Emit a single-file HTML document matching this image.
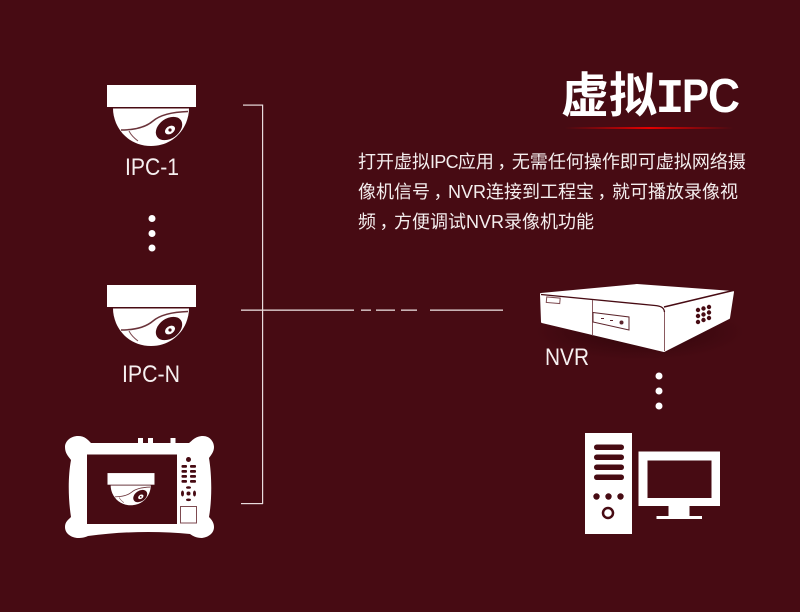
<!DOCTYPE html>
<html><head><meta charset="utf-8">
<style>
html,body{margin:0;padding:0;background:#470b13;}
svg{display:block;}
text{font-family:"Liberation Sans","Noto Sans CJK SC",sans-serif;fill:#fff;}
.b{font-size:18px;fill:#f4eeee;}
.l{font-size:24px;fill:#f6f0f0;}
</style></head><body>
<svg width="800" height="612" viewBox="0 0 800 612" xmlns="http://www.w3.org/2000/svg">
<defs>
<linearGradient id="rg" x1="0" x2="1" y1="0" y2="0">
<stop offset="0" stop-color="#e00000" stop-opacity="0"/>
<stop offset=".5" stop-color="#e60000"/>
<stop offset="1" stop-color="#e00000" stop-opacity="0"/>
</linearGradient>
<radialGradient id="sh" cx=".5" cy=".5" r=".5">
<stop offset="0" stop-color="#2a0308" stop-opacity=".8"/>
<stop offset="1" stop-color="#2a0308" stop-opacity="0"/>
</radialGradient>
<g id="cam">
<rect x="107" y="85" width="89" height="22" fill="#fff"/>
<path d="M113 108.500H189C189 113 188 118 186 123C180 137 167 146 151 146C135 146 122 137 116 123C114 118 113 113 113 108.500Z" fill="#fff"/>
<path d="M121 130C135 130 146 127 153 121C160 115 172 112 188 111.500" stroke="#6a333a" stroke-width="1.500" fill="none"/>
<path d="M129 131C131 135 134 138 138 141" stroke="#7d4a50" stroke-width="1" fill="none"/>
<ellipse cx="169" cy="128.500" rx="14.500" ry="10" transform="rotate(-35 169 128.500)" fill="#470b13"/>
<ellipse cx="170" cy="130" rx="5.500" ry="3.800" transform="rotate(-35 170 130)" fill="#fff"/>
<circle cx="170" cy="130" r="1.600" fill="#470b13"/>
</g>
</defs>
<rect width="800" height="612" fill="#470b13"/>

<!-- Title -->
<text x="561" y="112" font-size="48" font-weight="700" style="fill:#fff">虚拟</text>
<text x="655.500" y="112" font-size="48" font-weight="700" style="font-family:'Liberation Mono',monospace;fill:#fff">I</text>
<text x="682" y="112" font-size="47" font-weight="700" style="fill:#fff" textLength="27" lengthAdjust="spacingAndGlyphs">P</text>
<text x="708" y="112" font-size="48" font-weight="700" style="fill:#fff" textLength="32" lengthAdjust="spacingAndGlyphs">C</text>
<rect x="565" y="127" width="168" height="2" fill="url(#rg)"/>

<!-- Body -->
<text class="b" x="358" y="168">打开虚拟<tspan letter-spacing="-.7">IPC</tspan>应用<tspan dx="3.500">，</tspan><tspan dx="-3.500">无需任何操作即可虚拟网络摄</tspan></text>
<text class="b" x="358" y="198">像机信号<tspan dx="3.500">，</tspan><tspan dx="-3.500">NVR连接到工程宝</tspan><tspan dx="3.500">，</tspan><tspan dx="-3.500">就可播放录像视</tspan></text>
<text class="b" x="358" y="228">频<tspan dx="3.500">，</tspan><tspan dx="-3.500">方便调试NVR录像机功能</tspan></text>

<!-- Cameras -->
<use href="#cam"/>
<text class="l" x="125" y="175" textLength="54" lengthAdjust="spacingAndGlyphs">IPC-1</text>
<circle cx="152" cy="218.500" r="3.500" fill="#fff"/>
<circle cx="152" cy="233.500" r="3.500" fill="#fff"/>
<circle cx="152" cy="248" r="3.500" fill="#fff"/>
<use href="#cam" y="200"/>
<text class="l" x="122" y="382" textLength="58" lengthAdjust="spacingAndGlyphs">IPC-N</text>

<!-- Bracket and link -->
<g fill="#e8dcdd">
<rect x="243" y="104.500" width="19" height="1.200"/>
<rect x="262" y="104.500" width="1.200" height="399.500"/>
<rect x="241" y="503" width="22" height="1.200"/>
<rect x="241" y="309.500" width="113" height="1.300"/>
<rect x="361" y="309.500" width="10" height="1.300"/>
<rect x="376" y="309.500" width="19" height="1.300"/>
<rect x="401" y="309.500" width="16" height="1.300"/>
<rect x="430" y="309.500" width="73" height="1.300"/>
</g>

<!-- Tablet -->
<path d="M91 443H189C192 441 195 436 203 436C210 436 214 442 214 447C214 452 211 455 209 458C212 476 212 500 209 517C212 520 214 523 214 527C214 533 209 537 202 538C196 538 193 536 190 534C160 531 125 531 88 536C84 538 80 538 77 538C70 537 65 533 65 527C65 522 68 520 71 517C68 498 68 476 71 460C68 456 65 453 65 447C65 441 71 436 78 436C85 436 88 440 91 443Z" fill="#fff"/>
<rect x="138" y="438" width="5" height="6" fill="#fff"/>
<rect x="148" y="438" width="5" height="6" fill="#fff"/>
<rect x="170.500" y="438" width="5" height="6" fill="#fff"/>
<rect x="87" y="454.500" width="90" height="69.500" fill="#470b13"/>
<use href="#cam" transform="translate(51 428.200) scale(.528)"/>
<g fill="#470b13">
<circle cx="188.500" cy="459.500" r="2.500"/>
<rect x="181.500" y="465" width="5.500" height="2.800" rx="1"/><rect x="190" y="465" width="6" height="2.800" rx="1"/>
<rect x="181.500" y="470" width="5.500" height="2.800" rx="1"/><rect x="190" y="470" width="6" height="2.800" rx="1"/>
<rect x="181.500" y="475" width="5.500" height="2.800" rx="1"/><rect x="190" y="475" width="6" height="2.800" rx="1"/>
<rect x="181.500" y="480" width="5.500" height="2.800" rx="1"/><rect x="190" y="480" width="6" height="2.800" rx="1"/>
<circle cx="188.500" cy="493.500" r="2"/>
<ellipse cx="188.500" cy="487.500" rx="2.500" ry="1.300"/>
<ellipse cx="188.500" cy="499.800" rx="2.500" ry="1.300"/>
<ellipse cx="182.500" cy="493.500" rx="1.500" ry="3"/>
<ellipse cx="194.500" cy="493.500" rx="1.500" ry="3"/>
</g>
<rect x="180.500" y="506.500" width="16" height="16.500" fill="none" stroke="#7d4a50" stroke-width="1"/>

<!-- NVR -->
<ellipse cx="640" cy="332" rx="104" ry="28" fill="url(#sh)"/>
<path d="M541 294L637 285L733 292L729 318L664 351L542 322Z" fill="#fff" stroke="#fff" stroke-width="2" stroke-linejoin="round"/>
<g stroke="#470b13" fill="none">
<path d="M541 294.500L655 305.500C660 306 664 307 664.500 312" stroke-width="1.300"/>
<path d="M664 307L733 290.500" stroke-width="1.500"/>
<path d="M664.500 312V351" stroke="#8a5a60" stroke-width="1"/>
<path d="M592.500 300V335.500" stroke="#8a5a60" stroke-width="1"/>
</g>
<path d="M593 312.500L629 317V330L593 322Z" fill="#fff" stroke="#5c242b" stroke-width="1"/>
<rect x="546.500" y="297.500" width="13.500" height="5.500" fill="#fff" stroke="#7d4a50" stroke-width="1" transform="rotate(5 553 300)"/>
<g fill="#5c242b">
<rect x="601" y="318" width="3" height="1"/><rect x="610" y="320" width="3" height="1"/>
<circle cx="621.500" cy="322.500" r="2"/>
</g>
<g fill="#470b13">
<circle cx="698" cy="310" r="2.200"/><circle cx="703.500" cy="308.500" r="2.200"/><circle cx="709" cy="307" r="2.200"/>
<circle cx="698" cy="316" r="2.200"/><circle cx="703.500" cy="314.500" r="2.200"/><circle cx="709" cy="312.500" r="2.200"/>
<circle cx="698" cy="322" r="2.200"/><circle cx="703.500" cy="320" r="2.200"/><circle cx="709" cy="318" r="2.200"/>
</g>
<text class="l" x="545" y="365" textLength="44" lengthAdjust="spacingAndGlyphs">NVR</text>
<circle cx="659" cy="376" r="3.500" fill="#fff"/>
<circle cx="659" cy="391" r="3.500" fill="#fff"/>
<circle cx="659" cy="406" r="3.500" fill="#fff"/>

<!-- PC -->
<rect x="585" y="433" width="47" height="101" fill="#fff"/>
<g fill="#470b13">
<rect x="594" y="444.500" width="30" height="5.500" rx="2.700"/>
<rect x="594" y="454.500" width="30" height="5.500" rx="2.700"/>
<rect x="594" y="464.500" width="30" height="5.500" rx="2.700"/>
<rect x="594" y="474.500" width="30" height="5.500" rx="2.700"/>
<circle cx="596.500" cy="496.500" r="3.200"/>
<circle cx="608.500" cy="496.500" r="3.200"/>
<circle cx="620.500" cy="496.500" r="3.200"/>
</g>
<circle cx="608" cy="513" r="5" fill="none" stroke="#470b13" stroke-width="2.500"/>
<rect x="638.500" y="451.500" width="81.500" height="54.500" fill="#fff"/>
<rect x="647.500" y="460.500" width="64" height="37.500" fill="#470b13"/>
<rect x="668.500" y="506" width="21" height="10" fill="#fff"/>
<rect x="656.500" y="516" width="45.500" height="3" fill="#fff"/>
</svg>
</body></html>
